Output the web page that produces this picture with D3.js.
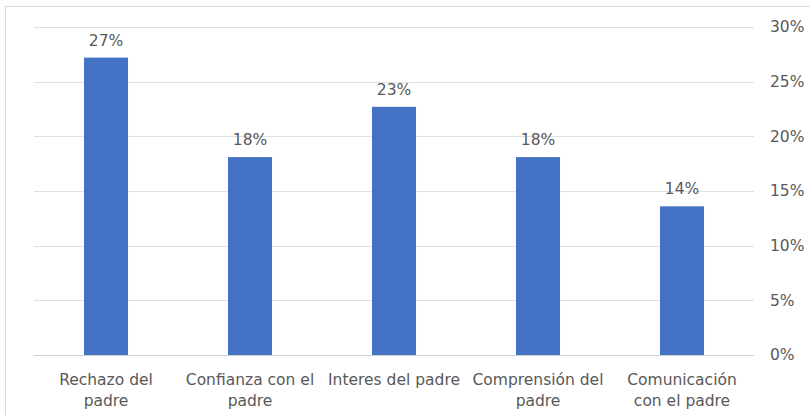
<!DOCTYPE html>
<html>
<head>
<meta charset="utf-8">
<script src="https://cdn.jsdelivr.net/npm/d3@7"></script>
<style>
  body { margin: 0; background: #fff; }
  svg text { font-family: "DejaVu Sans", sans-serif; fill: #595959; }
</style>
</head>
<body>
<svg id="chart" width="810" height="415"></svg>
<script>
// datos
var categorias = ["Rechazo del padre", "Confianza con el padre", "Interes del padre", "Comprensión del padre", "Comunicación con el padre"];
var etiquetas = [["Rechazo del", "padre"], ["Confianza con el", "padre"], ["Interes del padre"], ["Comprensión del", "padre"], ["Comunicación", "con el padre"]];
var valores = [0.272, 0.181, 0.227, 0.181, 0.136];
var ticks = [0, 0.05, 0.10, 0.15, 0.20, 0.25, 0.30];

var width = 810, height = 415;
var margin = { top: 27, right: 56, bottom: 60, left: 34 };
var fuente = 15.5;
var svg = d3.select("#chart");

// marco
svg.append("rect")
    .attr("x", 5.5).attr("y", 6.5)
    .attr("width", 810).attr("height", 420)
    .attr("fill", "none")
    .attr("stroke", "#d9d9d9");

var x = d3.scaleBand()
    .domain(categorias)
    .range([margin.left, width - margin.right])
    .paddingInner(0.694)
    .paddingOuter(0.347);

var y = d3.scaleLinear()
    .domain([0, 0.30])
    .range([height - margin.bottom, margin.top]);

// lineas de cuadricula
svg.append("g").selectAll("line")
    .data(ticks)
    .enter().append("line")
    .attr("x1", margin.left).attr("x2", width - margin.right)
    .attr("y1", d => Math.round(y(d)) + 0.5)
    .attr("y2", d => Math.round(y(d)) + 0.5)
    .attr("stroke", d => d === 0 ? "#d0d0d0" : "#e0e0e0");

// eje derecho
var yAxis = d3.axisRight(y).tickValues(ticks).tickFormat(d3.format(".0%")).tickSize(0).tickPadding(16);
svg.append("g")
    .attr("transform", "translate(" + (width - margin.right) + ",0)")
    .call(yAxis)
    .call(g => g.select(".domain").remove())
    .selectAll("text")
    .attr("font-size", fuente)
    .attr("font-family", "DejaVu Sans, sans-serif")
    .attr("fill", "#595959");

// barras
svg.append("g").selectAll("rect")
    .data(valores)
    .enter().append("rect")
    .attr("x", (d, i) => x(categorias[i]))
    .attr("y", d => y(d))
    .attr("width", x.bandwidth())
    .attr("height", d => y(0) - y(d))
    .attr("fill", "#4472c4");

// etiquetas de datos
svg.append("g").selectAll("text")
    .data(valores)
    .enter().append("text")
    .attr("x", (d, i) => x(categorias[i]) + x.bandwidth() / 2)
    .attr("y", d => y(d) - 12)
    .attr("text-anchor", "middle")
    .attr("font-size", fuente)
    .text(d => d3.format(".0%")(d));

// etiquetas de categorias
var cat = svg.append("g").selectAll("text")
    .data(etiquetas)
    .enter().append("text")
    .attr("x", (d, i) => x(categorias[i]) + x.bandwidth() / 2)
    .attr("y", height - margin.bottom + 30)
    .attr("text-anchor", "middle")
    .attr("font-size", fuente);
cat.selectAll("tspan")
    .data(d => d)
    .enter().append("tspan")
    .attr("x", function () { return d3.select(this.parentNode).attr("x"); })
    .attr("dy", (d, i) => i === 0 ? 0 : 20.5)
    .text(d => d);
</script>
</body>
</html>
